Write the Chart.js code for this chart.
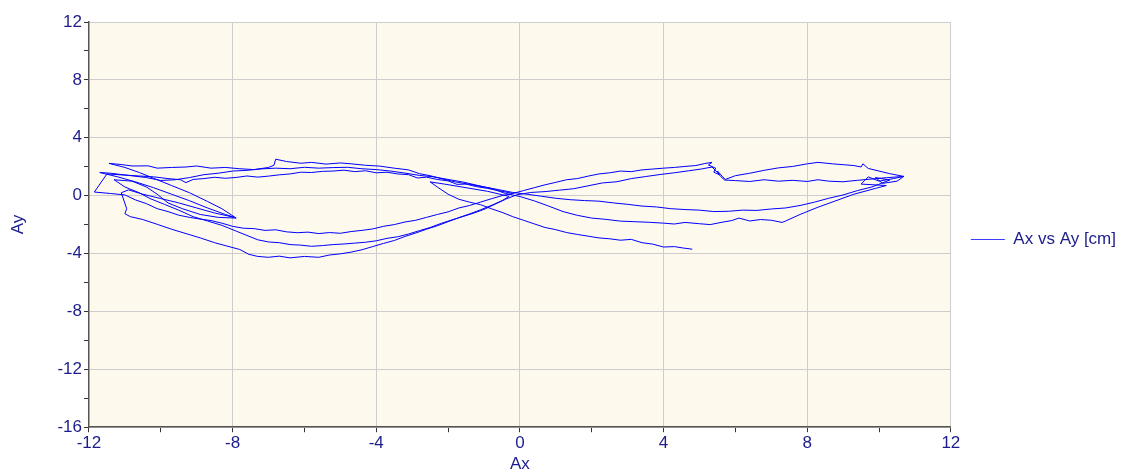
<!DOCTYPE html>
<html>
<head>
<meta charset="utf-8">
<script src="https://cdn.jsdelivr.net/npm/chart.js@4.4.1/dist/chart.umd.min.js"></script>
<style>
html, body { margin: 0; padding: 0; background: #ffffff; }
#wrap { width: 1142px; height: 475px; }
</style>
</head>
<body>
<div id="wrap"><canvas id="grafico" width="1142" height="475"></canvas></div>
<script>
const seriesLabel = "Ax vs Ay [cm]";
const xTitle = "Ax";
const yTitle = "Ay";
const xLabelTicks = [-12, -8, -4, 0, 4, 8, 12];
const yLabelTicks = [-16, -12, -8, -4, 0, 4, 8, 12];

// recorrido en tramos [Ax, Ay], en el orden en que se dibuja
const tramo0 = [[-0.2,0.15],[-0.6,0.35],[-0.9,0.5],[-1.2,0.62],[-1.5,0.8],[-1.75,0.78],[-2.0,1.02],[-2.3,1.12],[-2.6,1.28],[-2.85,1.22],[-3.1,1.45],[-3.4,1.5],[-3.7,1.62],[-4.0,1.58],[-4.3,1.72],[-4.6,1.66],[-4.9,1.76],[-5.2,1.7],[-5.5,1.68],[-5.8,1.6],[-6.1,1.62],[-6.4,1.5],[-6.7,1.44],[-7.0,1.35],[-7.3,1.28],[-7.6,1.36],[-7.9,1.26],[-8.2,1.2],[-8.5,1.27],[-8.8,1.18],[-9.1,1.12],[-9.3,0.9],[-9.45,1.1],[-9.8,1.18],[-10.2,1.3],[-10.6,1.36],[-11.0,1.42],[-11.5,1.5]];

const tramo1 = [[-11.85,0.25],[-11.4,0.15],[-11.0,0.05],[-10.7,-0.3],[-10.4,-0.55],[-10.1,-0.9],[-9.8,-1.1],[-9.5,-1.35],[-9.2,-1.5],[-8.9,-1.62],[-8.6,-1.72],[-8.3,-1.9],[-8.0,-2.12],[-7.7,-2.25],[-7.4,-2.28],[-7.1,-2.4],[-6.8,-2.36],[-6.5,-2.5],[-6.2,-2.56],[-5.9,-2.52],[-5.6,-2.62],[-5.3,-2.55],[-5.0,-2.6],[-4.7,-2.48],[-4.4,-2.4],[-4.1,-2.3],[-3.8,-2.12],[-3.5,-2.0],[-3.2,-1.82],[-2.9,-1.7],[-2.6,-1.5],[-2.3,-1.3],[-2.0,-1.12],[-1.7,-0.85],[-1.4,-0.68],[-1.1,-0.45],[-0.8,-0.22],[-0.5,0.0],[-0.2,0.15],[0.1,0.35],[0.4,0.55],[0.7,0.75],[1.0,0.92],[1.3,1.1],[1.6,1.18],[1.9,1.35],[2.2,1.5],[2.5,1.58],[2.8,1.7],[3.1,1.66],[3.4,1.78],[3.7,1.84],[4.0,1.9],[4.3,1.95],[4.6,2.02],[4.9,2.08],[5.15,2.22],[5.35,2.3],[5.25,2.12],[5.45,1.9],[5.4,1.62],[5.55,1.45],[5.5,1.7],[5.65,1.3],[5.72,1.12],[6.0,1.38],[6.4,1.55],[6.8,1.75],[7.2,1.92],[7.6,2.02],[8.0,2.2],[8.3,2.3],[8.7,2.2],[9.0,2.14],[9.3,2.08],[9.5,1.98],[9.55,2.2],[9.7,1.88],[10.0,1.7],[10.3,1.52],[10.69,1.33]];

const tramo2 = [[10.5,1.0],[10.1,0.85],[9.9,1.25],[10.3,1.08],[9.8,0.6],[9.4,0.35],[9.0,0.05],[8.6,-0.18],[8.2,-0.45],[7.8,-0.68],[7.4,-0.85],[7.0,-0.92],[6.6,-1.02],[6.2,-1.0],[5.8,-1.08],[5.4,-1.1],[5.0,-1.0],[4.6,-0.96],[4.2,-0.9],[3.8,-0.78],[3.4,-0.72],[3.0,-0.6],[2.6,-0.5],[2.2,-0.38],[1.8,-0.34],[1.4,-0.28],[1.0,-0.18],[0.6,-0.04],[0.2,0.1],[-0.2,0.22],[-0.6,0.42],[-1.0,0.6],[-1.4,0.78],[-1.8,0.95],[-2.2,1.18],[-2.5,1.38],[-2.8,1.52],[-3.1,1.78],[-3.5,1.9],[-3.9,2.04],[-4.3,2.1],[-4.7,2.2],[-5.0,2.26],[-5.4,2.18],[-5.8,2.3],[-6.1,2.24],[-6.5,2.36],[-6.8,2.52],[-6.85,2.1],[-7.0,1.95],[-7.4,1.8],[-7.8,1.86],[-8.2,1.95],[-8.6,1.9],[-9.0,2.05],[-9.3,1.98],[-9.7,1.95],[-10.1,1.9],[-10.35,2.06],[-10.8,2.05],[-11.1,2.15],[-11.44,2.23]];

const tramo3 = [[-11.0,1.95],[-10.6,1.6],[-10.2,1.2],[-9.7,0.7],[-9.2,0.2],[-8.7,-0.4],[-8.3,-0.9],[-7.9,-1.55],[-8.4,-1.5],[-8.9,-1.3],[-9.4,-0.9],[-9.8,-0.5],[-10.1,0.1],[-10.4,0.6],[-10.8,1.0],[-11.3,1.1],[-11.0,0.6],[-10.6,0.2],[-10.3,-0.2],[-9.9,-0.6],[-9.5,-1.0],[-9.1,-1.45],[-8.7,-1.75],[-8.3,-2.05],[-7.9,-2.45],[-7.6,-2.75],[-7.3,-3.05],[-7.0,-3.2],[-6.7,-3.25],[-6.4,-3.38],[-6.1,-3.42],[-5.8,-3.5],[-5.5,-3.45],[-5.2,-3.38],[-4.9,-3.34],[-4.6,-3.28],[-4.3,-3.22],[-4.0,-3.12],[-3.7,-2.95],[-3.4,-2.84],[-3.1,-2.65],[-2.8,-2.42],[-2.5,-2.2],[-2.2,-1.92],[-1.9,-1.68],[-1.6,-1.45],[-1.3,-1.22],[-1.0,-0.95],[-0.7,-0.6],[-0.4,-0.25],[-0.1,0.05],[0.3,0.22],[0.7,0.28],[1.1,0.38],[1.5,0.48],[1.9,0.68],[2.3,0.88],[2.7,0.96],[3.1,1.18],[3.5,1.32],[3.9,1.46],[4.3,1.58],[4.7,1.72],[5.05,1.84],[5.35,1.98],[5.5,1.6],[5.6,1.3],[5.7,1.08],[6.0,1.04],[6.4,0.98],[6.8,1.1],[7.2,1.0],[7.6,1.06],[8.0,0.98],[8.3,1.1],[8.6,1.0],[9.0,0.96],[9.4,1.06],[9.8,1.15],[10.2,1.24],[10.69,1.33]];

const tramo4 = [[10.4,1.18],[10.0,1.0],[9.7,1.3],[9.5,0.8],[10.2,0.7],[9.9,0.5],[9.3,0.1],[8.8,-0.35],[8.3,-0.8],[7.8,-1.3],[7.4,-1.75],[7.3,-1.85],[7.0,-1.7],[6.7,-1.65],[6.4,-1.75],[6.1,-1.55],[5.9,-1.72],[5.6,-1.85],[5.3,-2.0],[5.0,-1.94],[4.6,-1.85],[4.3,-1.96],[4.0,-1.9],[3.6,-1.84],[3.2,-1.8],[2.8,-1.76],[2.4,-1.64],[2.0,-1.55],[1.6,-1.36],[1.2,-1.1],[0.8,-0.72],[0.4,-0.36],[0.0,-0.06],[-0.4,0.15],[-0.8,0.5],[-1.2,0.72],[-1.6,0.95],[-2.0,1.12],[-2.4,1.3],[-2.8,1.4],[-3.2,1.56],[-3.6,1.7],[-4.0,1.8],[-4.4,1.86],[-4.8,1.96],[-5.2,1.94],[-5.6,1.9],[-6.0,1.96],[-6.4,1.86],[-6.8,1.9],[-7.2,1.85],[-7.6,1.75],[-8.0,1.7],[-8.4,1.55],[-8.8,1.45],[-9.2,1.25],[-9.6,1.1],[-10.0,1.05],[-10.4,1.25],[-10.9,1.4],[-11.4,1.55],[-11.7,1.6]];

const tramo5 = [[-11.2,1.3],[-10.7,0.95],[-10.2,0.55],[-9.7,0.1],[-9.2,-0.35],[-8.7,-0.85],[-8.2,-1.3],[-7.95,-1.5],[-8.5,-1.2],[-9.0,-0.85],[-9.5,-0.5],[-10.0,-0.2],[-10.5,0.1],[-10.9,0.4],[-11.1,0.2],[-10.95,-0.9],[-11.0,-1.25],[-10.85,-1.45],[-10.5,-1.65],[-10.1,-1.98],[-9.7,-2.32],[-9.3,-2.62],[-8.9,-2.92],[-8.5,-3.25],[-8.1,-3.52],[-7.8,-3.72],[-7.55,-4.05],[-7.3,-4.2],[-7.0,-4.26],[-6.7,-4.18],[-6.4,-4.3],[-6.0,-4.2],[-5.6,-4.26],[-5.3,-4.1],[-5.0,-4.02],[-4.7,-3.9],[-4.4,-3.74],[-4.1,-3.52],[-3.8,-3.3],[-3.5,-3.1],[-3.2,-2.82],[-2.9,-2.58],[-2.6,-2.32],[-2.3,-2.08],[-2.0,-1.8],[-1.7,-1.52],[-1.4,-1.26],[-1.1,-0.98],[-0.8,-0.68],[-0.5,-0.35],[-0.3,-0.05]];

const tramo6 = [[-0.9,0.3],[-1.5,0.55],[-2.1,0.8],[-2.5,0.95],[-2.3,0.6],[-2.0,0.1],[-1.7,-0.25],[-1.4,-0.45],[-1.1,-0.62],[-0.8,-0.9],[-0.5,-1.15],[-0.2,-1.45],[0.1,-1.7],[0.4,-1.95],[0.7,-2.2],[1.0,-2.35],[1.3,-2.55],[1.6,-2.68],[1.9,-2.8],[2.2,-2.92],[2.5,-2.98],[2.8,-3.08],[3.1,-3.02],[3.4,-3.25],[3.7,-3.35],[4.0,-3.55],[4.3,-3.52],[4.55,-3.62],[4.8,-3.7]];

const azulTexto = "#1c1c8c";
const fuente = { family: "'Liberation Sans', Arial, sans-serif", size: 17 };

const trayectoria = [].concat(tramo0, tramo1, tramo2, tramo3, tramo4, tramo5, tramo6)
    .map(p => ({ x: p[0], y: p[1] }));

const fondo = {
    id: "fondo",
    beforeDraw(chart) {
        const a = chart.chartArea;
        const ctx = chart.ctx;
        ctx.save();
        ctx.fillStyle = "#fdf9ed";
        ctx.fillRect(a.left, a.top, a.right - a.left, a.bottom - a.top);
        ctx.restore();
    }
};

// la leyenda va un poco por encima del centro
const subirLeyenda = {
    id: "subirLeyenda",
    afterLayout(chart) {
        chart.legend.top -= 9;
        chart.legend.bottom -= 9;
    }
};

function rejilla(marcas) {
    return ctx => (ctx.tick && marcas.includes(ctx.tick.value)) ? "#cdcdcd" : "rgba(0,0,0,0)";
}

new Chart(document.getElementById("grafico"), {
    type: "scatter",
    data: {
        datasets: [
            {
                label: seriesLabel,
                data: trayectoria,
                showLine: true,
                borderColor: "#0000ff",
                backgroundColor: "#0000ff",
                pointBorderColor: "#3c3cff",
                pointBackgroundColor: "#3c3cff",
                borderWidth: 1,
                pointRadius: 0,
                tension: 0
            }
        ]
    },
    options: {
        responsive: false,
        animation: false,
        devicePixelRatio: 1,
        layout: { padding: { left: 8, right: 16, top: 22, bottom: 0 } },
        plugins: {
            legend: {
                position: "right",
                labels: {
                    usePointStyle: true,
                    pointStyle: "line",
                    pointStyleWidth: 34,
                    color: azulTexto,
                    font: fuente,
                    padding: 20
                }
            },
            tooltip: { enabled: false }
        },
        scales: {
            x: {
                type: "linear",
                min: -12,
                max: 12,
                ticks: {
                    stepSize: 2,
                    autoSkip: false,
                    maxRotation: 0,
                    color: azulTexto,
                    font: fuente,
                    padding: 1,
                    callback: v => xLabelTicks.includes(v) ? String(v) : ""
                },
                grid: { color: rejilla(xLabelTicks), tickColor: "#333333", tickLength: 5 },
                border: { color: "#555555", width: 1.5 },
                title: { display: true, text: xTitle, color: azulTexto, font: fuente, padding: { top: 0, bottom: 0 } }
            },
            y: {
                type: "linear",
                min: -16,
                max: 12,
                ticks: {
                    stepSize: 2,
                    autoSkip: false,
                    color: azulTexto,
                    font: fuente,
                    padding: 2,
                    callback: v => yLabelTicks.includes(v) ? String(v) : ""
                },
                grid: { color: rejilla(yLabelTicks), tickColor: "#333333", tickLength: 5 },
                border: { color: "#555555", width: 1.5 },
                title: { display: true, text: yTitle, color: azulTexto, font: fuente, padding: { top: 0, bottom: 27 } }
            }
        }
    },
    plugins: [fondo, subirLeyenda]
});
</script>
</body>
</html>
